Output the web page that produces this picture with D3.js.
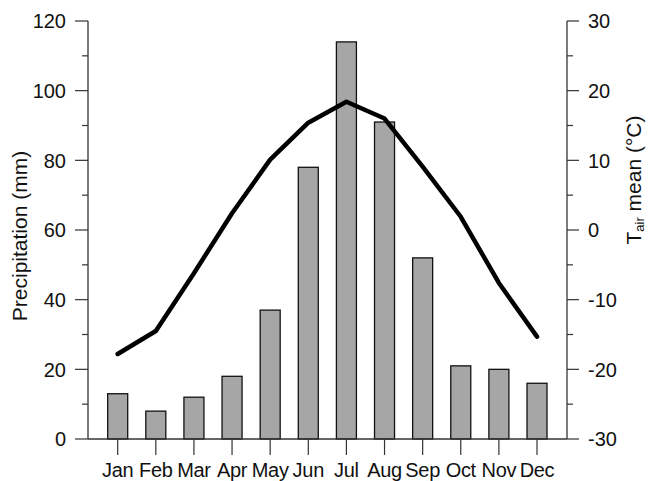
<!DOCTYPE html>
<html><head><meta charset="utf-8">
<script src="https://cdn.jsdelivr.net/npm/d3@7"></script>
<style>body{margin:0;background:#fff}svg{display:block}text{font-family:"Liberation Sans",Arial,sans-serif}</style>
</head><body>
<script>
const months = ["Jan","Feb","Mar","Apr","May","Jun","Jul","Aug","Sep","Oct","Nov","Dec"];
const precipitation = [13, 8, 12, 18, 37, 78, 114, 91, 52, 21, 20, 16];
const temperature = [-17.8, -14.5, -6.2, 2.4, 10.1, 15.4, 18.4, 16.0, 9.1, 1.9, -7.6, -15.3];
const precipTicks = [0, 20, 40, 60, 80, 100, 120];
const tempTicks = [-30, -20, -10, 0, 10, 20, 30];

const W = 650, H = 481;
const svg = d3.select("body").append("svg").attr("width", W).attr("height", H);
const axL = 88, axR = 567, yTop = 21, yBot = 439;
const step = 38.13;
const x = d3.scaleBand().domain(months).range([117.7 - step/2, 537 + step/2]).paddingInner(0.475).paddingOuter(0.2375);
const yP = d3.scaleLinear().domain([0, 120]).range([yBot, yTop]);
const yT = d3.scaleLinear().domain([-30, 30]).range([yBot, yTop]);
const axisColor = "#333";
const textColor = "#111";

// bars
svg.append("g").selectAll("rect").data(precipitation).join("rect")
  .attr("x", (d, i) => x(months[i]))
  .attr("y", d => yP(d))
  .attr("width", x.bandwidth())
  .attr("height", d => yP(0) - yP(d))
  .attr("fill", "#a6a6a6").attr("stroke", "#111").attr("stroke-width", 1.3);

// bottom axis line
svg.append("line").attr("x1", axL).attr("x2", axR).attr("y1", yBot).attr("y2", yBot)
  .attr("stroke", axisColor).attr("stroke-width", 1.3);

// x ticks
const gx = svg.append("g");
months.forEach((m, i) => {
  const cx = x(m) + x.bandwidth()/2;
  gx.append("line").attr("x1", cx).attr("x2", cx).attr("y1", yBot).attr("y2", yBot + 16)
    .attr("stroke", axisColor).attr("stroke-width", 1.2);
  gx.append("text").attr("x", cx).attr("y", yBot + 38).attr("text-anchor", "middle")
    .attr("font-size", 20).attr("fill", textColor).attr("letter-spacing", -0.3).text(m);
});

// left axis
const minorP = d3.range(10, 120, 20);
const gl = svg.append("g");
gl.append("line").attr("x1", axL).attr("x2", axL).attr("y1", yTop).attr("y2", yBot).attr("stroke", axisColor).attr("stroke-width", 1.3);
precipTicks.forEach(t => {
  gl.append("line").attr("x1", axL - 13).attr("x2", axL).attr("y1", yP(t)).attr("y2", yP(t)).attr("stroke", axisColor).attr("stroke-width", 1.2);
  gl.append("text").attr("x", axL - 22).attr("y", yP(t)).attr("dy", "0.36em").attr("text-anchor", "end")
    .attr("font-size", 20).attr("fill", textColor).text(t);
});
minorP.forEach(t => {
  gl.append("line").attr("x1", axL - 6).attr("x2", axL).attr("y1", yP(t)).attr("y2", yP(t)).attr("stroke", axisColor).attr("stroke-width", 1.2);
});
gl.append("text").attr("transform", `translate(27,236) rotate(-90)`).attr("text-anchor", "middle")
  .attr("font-size", 21).attr("fill", textColor).text("Precipitation (mm)");

// right axis
const minorT = d3.range(-25, 30, 10);
const gr = svg.append("g");
gr.append("line").attr("x1", axR).attr("x2", axR).attr("y1", yTop).attr("y2", yBot).attr("stroke", axisColor).attr("stroke-width", 1.3);
tempTicks.forEach(t => {
  gr.append("line").attr("x1", axR).attr("x2", axR + 12).attr("y1", yT(t)).attr("y2", yT(t)).attr("stroke", axisColor).attr("stroke-width", 1.2);
  gr.append("text").attr("x", axR + 21).attr("y", yT(t)).attr("dy", "0.36em").attr("text-anchor", "start")
    .attr("font-size", 20).attr("fill", textColor).text(t);
});
minorT.forEach(t => {
  gr.append("line").attr("x1", axR).attr("x2", axR + 6).attr("y1", yT(t)).attr("y2", yT(t)).attr("stroke", axisColor).attr("stroke-width", 1.2);
});
const rt = gr.append("text").attr("transform", `translate(641,180) rotate(-90)`).attr("text-anchor", "middle")
  .attr("font-size", 21).attr("fill", textColor);
rt.append("tspan").text("T");
rt.append("tspan").attr("font-size", 13).attr("dy", 3).text("air");
rt.append("tspan").attr("dy", -3).text(" mean (°C)");

// temperature line
const line = d3.line().x((d, i) => x(months[i]) + x.bandwidth()/2).y(d => yT(d));
svg.append("path").datum(temperature).attr("d", line).attr("fill", "none")
  .attr("stroke", "#000").attr("stroke-width", 4.5).attr("stroke-linejoin", "round").attr("stroke-linecap", "round");
</script>
</body></html>
